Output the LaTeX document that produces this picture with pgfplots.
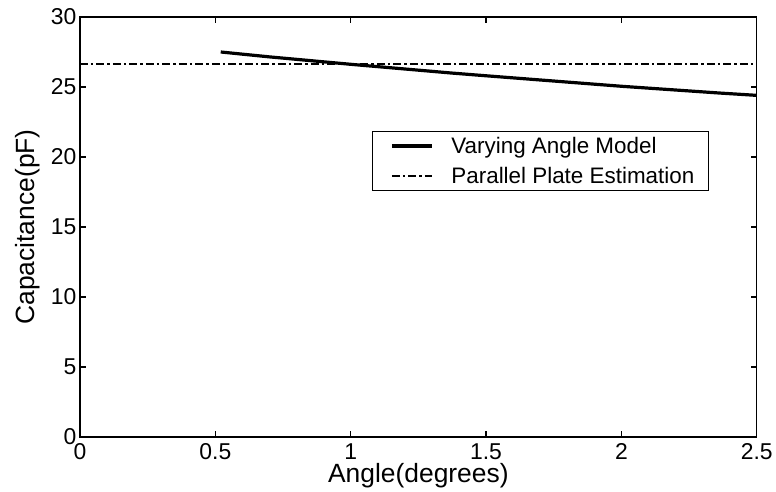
\documentclass[border=0pt]{standalone}
\usepackage{pgfplots}
\pgfplotsset{compat=1.18}
\usepackage{fontspec}
\setmainfont{Liberation Sans}
\begin{document}
\begin{tikzpicture}
\begin{axis}[
  scale only axis,
  width=677bp, height=420bp,
  xmin=0, xmax=2.5, ymin=0, ymax=30,
  xtick={0,0.5,1,1.5,2,2.5},
  xticklabels={0,0.5,1,1.5,2,2.5},
  ytick={0,5,10,15,20,25,30},
  tick align=inside,
  xtick pos=both, ytick pos=both,
  major tick length=6bp,
  axis line style={line width=1.4bp},
  xtick style={draw=black, line width=1.3bp},
  ytick style={draw=black, line width=1.3bp},
  ticklabel style={font=\fontsize{23}{23}\selectfont},
  xticklabel style={yshift=-3bp},
  /pgf/number format/assume math mode=true,
  xlabel={Angle(degrees)},
  ylabel={Capacitance(pF)},
  label style={font=\fontsize{26.5}{26.5}\selectfont},
  xlabel style={at={(axis description cs:0.5,-0.1095)}, anchor=base},
  ylabel style={at={(axis description cs:-0.0665,0.5)}, anchor=base},
  legend style={at={(0.4313,0.729)}, anchor=north west, draw=black, line width=0.8bp,
    font=\fontsize{22.5}{26}\selectfont, inner xsep=12bp, inner ysep=4bp,
    row sep=8bp},
  legend cell align=left,
  legend image code/.code={\draw[#1] (0bp,0bp) -- (40bp,0bp); \path (-6bp,0bp) (56bp,0bp);},
]
\addplot[black, line width=3.2bp] coordinates {
  (0.52,27.5) (0.7,27.15) (1.0,26.62) (1.37,26.0) (1.5,25.8) (2.0,25.05) (2.36,24.57) (2.5,24.4)
};
\addlegendentry{Varying Angle Model}
\addplot[black, line width=1.8bp, dash pattern=on 8bp off 3bp on 2.5bp off 3bp] coordinates {
  (0,26.65) (2.5,26.65)
};
\addlegendentry{Parallel Plate Estimation}
\end{axis}
\useasboundingbox (-80bp,-53bp) rectangle (696bp,437bp);
\end{tikzpicture}
\end{document}
